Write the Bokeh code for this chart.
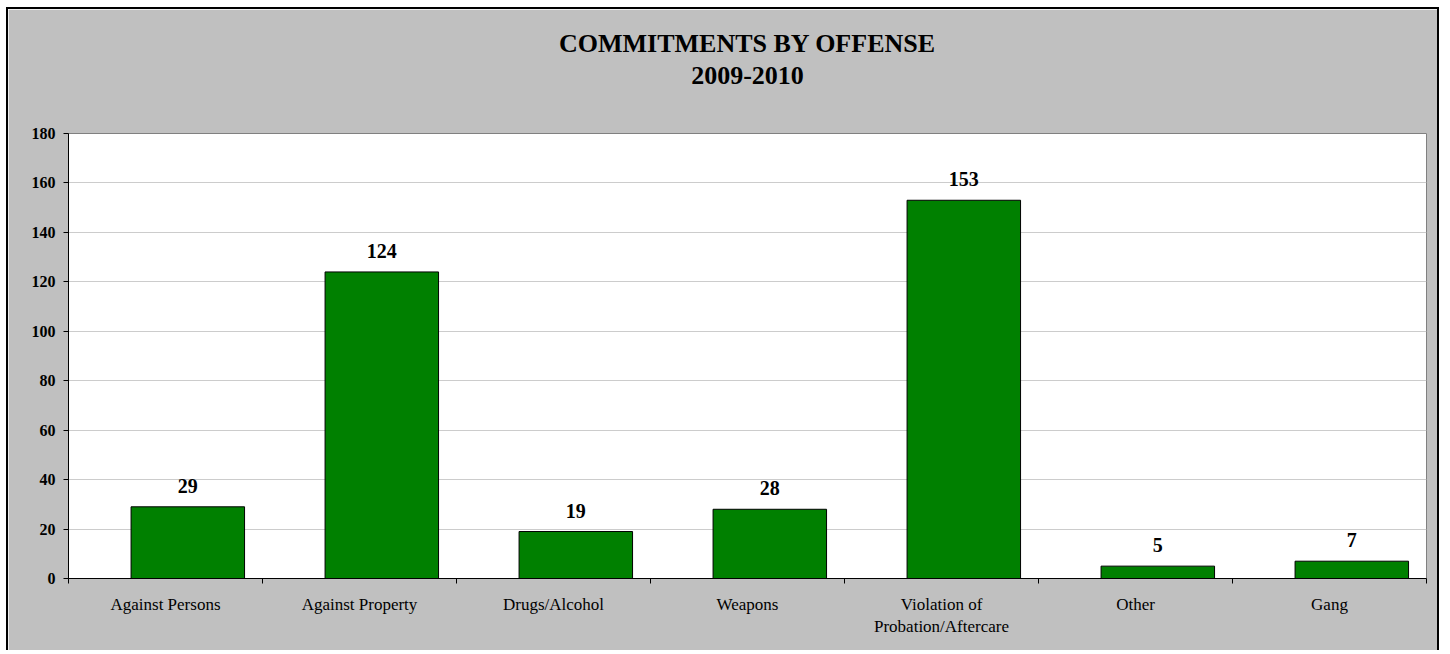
from bokeh.plotting import figure
from bokeh.models import ColumnDataSource, FixedTicker, Range1d, LabelSet, LinearAxis
from bokeh.embed import file_html
from bokeh.resources import INLINE

categories = ["Against Persons", "Against Property", "Drugs/Alcohol", "Weapons",
              "Violation of\nProbation/Aftercare", "Other", "Gang"]
values = [29, 124, 19, 28, 153, 5, 7]
y_ticks = [0, 20, 40, 60, 80, 100, 120, 140, 160, 180]
title_line1 = "COMMITMENTS BY OFFENSE"
title_line2 = "2009-2010"

FONT = "Liberation Serif"
n = len(categories)
bar_shift = 0.115
bar_width = 0.585

centers = [i + 0.5 for i in range(n)]
src = ColumnDataSource(dict(
    x=[c + bar_shift for c in centers],
    top=values,
    label=[str(v) for v in values],
))

p = figure(width=1433, height=643, output_backend="svg", toolbar_location=None,
           x_range=Range1d(0, n), y_range=Range1d(0, 180),
           min_border_left=60, min_border_right=15, min_border_top=124, min_border_bottom=74)
p.styles = {"border-left": "2px solid black", "border-top": "2px solid black",
            "border-right": "2px solid black", "margin-left": "6px", "margin-top": "7px"}
p.background_fill_color = "white"
p.border_fill_color = "#C0C0C0"
p.outline_line_color = "#808080"
p.outline_line_width = 1

p.vbar(x="x", top="top", width=bar_width, bottom=0, source=src,
       fill_color="#008000", line_color="black", line_width=1)

labels = LabelSet(x="x", y="top", text="label", source=src, text_align="center",
                  text_baseline="alphabetic", y_offset=14, text_font=FONT,
                  text_font_size="20px", text_font_style="bold", text_color="black")
p.add_layout(labels)

# x axis
xt = FixedTicker(ticks=centers, minor_ticks=list(range(n + 1)))
p.xaxis.ticker = xt
p.xaxis.major_label_overrides = {c: cat for c, cat in zip(centers, categories)}
p.xaxis.major_tick_line_color = None
p.xaxis.minor_tick_line_color = "black"
p.xaxis.minor_tick_out = 5
p.xaxis.minor_tick_in = 0
p.xaxis.axis_line_color = "black"
p.xaxis.major_label_text_font = FONT
p.xaxis.major_label_text_font_size = "17px"
p.xaxis.major_label_text_color = "black"
p.xaxis.major_label_standoff = 10

# y axis
p.yaxis.ticker = FixedTicker(ticks=y_ticks, minor_ticks=[])
p.yaxis.major_tick_out = 5
p.yaxis.major_tick_in = 0
p.yaxis.major_tick_line_color = "black"
p.yaxis.axis_line_color = "black"
p.yaxis.major_label_text_font = FONT
p.yaxis.major_label_text_font_size = "16px"
p.yaxis.major_label_text_font_style = "bold"
p.yaxis.major_label_text_color = "black"
p.yaxis.major_label_standoff = 8

p.xgrid.visible = False
p.ygrid.grid_line_color = "#CCCCCC"
p.ygrid.ticker = FixedTicker(ticks=y_ticks)

# two-line title: an unlined axis above the frame, centred over it
mid = n / 2
title_axis = LinearAxis(ticker=FixedTicker(ticks=[mid], minor_ticks=[]),
                        major_label_overrides={mid: title_line2},
                        axis_label=title_line1,
                        axis_line_color=None, major_tick_line_color=None,
                        minor_tick_line_color=None,
                        major_label_standoff=44, axis_label_standoff=6,
                        major_label_text_font=FONT, major_label_text_font_size="26px",
                        major_label_text_font_style="bold", major_label_text_color="black",
                        axis_label_text_font=FONT, axis_label_text_font_size="26px",
                        axis_label_text_font_style="bold", axis_label_text_color="black")
p.add_layout(title_axis, "above")

open("out.html", "w").write(file_html(p, INLINE))
